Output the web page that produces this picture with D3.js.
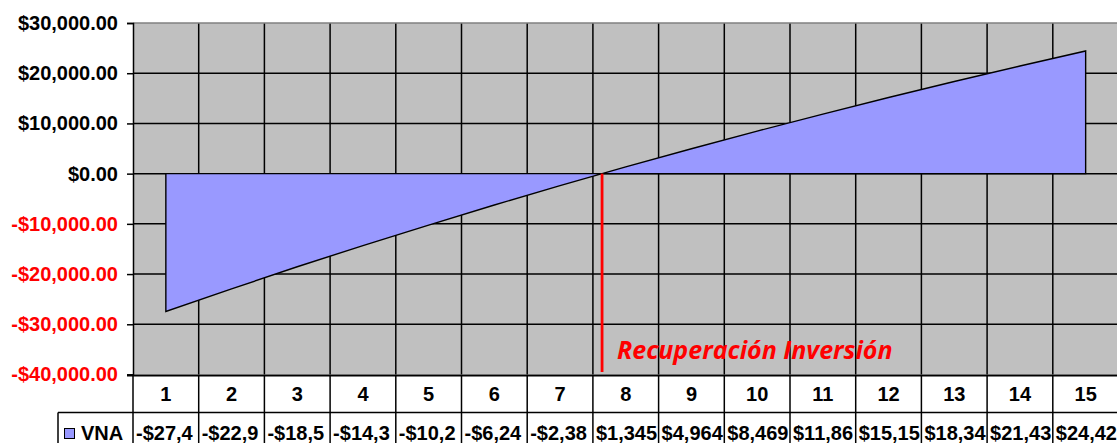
<!DOCTYPE html>
<html>
<head>
<meta charset="utf-8">
<script src="https://cdn.jsdelivr.net/npm/d3@7"></script>
<style>
  html, body { margin: 0; padding: 0; background: #ffffff; }
  svg { display: block; }
  text { font-family: "Liberation Sans", Arial, sans-serif; font-weight: bold; }
</style>
</head>
<body>
<svg id="chart" width="1117" height="443"></svg>
<script>
// Periods (years) of the investment
const periods = [1, 2, 3, 4, 5, 6, 7, 8, 9, 10, 11, 12, 13, 14, 15];
// Accumulated net present value per period
const vna = [-27450, -22960, -18540, -14330, -10260, -6245, -2385, 1345, 4964, 8469, 11865, 15155, 18345, 21435, 24425];
const seriesName = "VNA";
// Value axis ticks
const yTicks = [-40000, -30000, -20000, -10000, 0, 10000, 20000, 30000];
const annotation = "Recuperación Inversión";

const svg = d3.select("#chart");

const plot = { left: 133, right: 1118.5, top: 23, bottom: 374.5 };
const tableRow1 = { top: 375.5, bottom: 412.5 };
const tableRow2 = { top: 412.5, bottom: 470 };
const legendLeft = 58;

const locale = d3.formatLocale({
  decimal: ".", thousands: ",", grouping: [3], currency: ["$", ""], minus: "-"
});
const money = locale.format("$,.2f");

const x = d3.scaleBand().domain(periods).range([plot.left, plot.right]).paddingInner(0).paddingOuter(0);
const cx = d => x(d) + x.bandwidth() / 2;
const y = d3.scaleLinear().domain([-40000, 30000]).range([plot.bottom, plot.top]);

// Plot background
svg.append("rect")
  .attr("x", plot.left).attr("y", plot.top)
  .attr("width", plot.right - plot.left).attr("height", plot.bottom - plot.top)
  .attr("fill", "#C0C0C0");

// Horizontal gridlines
svg.append("g").selectAll("line").data(yTicks.slice(1, -1)).join("line")
  .attr("x1", plot.left).attr("x2", plot.right)
  .attr("y1", d => y(d)).attr("y2", d => y(d))
  .attr("stroke", "#000").attr("stroke-width", 1.5);

// Vertical gridlines at category boundaries
const bounds = periods.map(p => x(p)).concat([x(periods[periods.length - 1]) + x.bandwidth()]);
svg.append("g").selectAll("line").data(bounds.slice(1)).join("line")
  .attr("x1", d => d).attr("x2", d => d)
  .attr("y1", plot.top).attr("y2", plot.bottom)
  .attr("stroke", "#000").attr("stroke-width", 1.5);

// Top border of plot area
svg.append("line")
  .attr("x1", plot.left).attr("x2", plot.right)
  .attr("y1", plot.top).attr("y2", plot.top)
  .attr("stroke", "#808080").attr("stroke-width", 1.5);

// Area of accumulated NPV
const pts = periods.map((p, i) => [cx(p), y(vna[i])]);
const poly = [[cx(periods[0]), y(0)]].concat(pts, [[cx(periods[periods.length - 1]), y(0)]]);
svg.append("path")
  .attr("d", d3.line()(poly) + "Z")
  .attr("fill", "#9999FF")
  .attr("stroke", "#000")
  .attr("stroke-width", 1.4)
  .attr("stroke-linejoin", "miter");

// Payback point: where the accumulated value crosses zero
let crossX = null;
for (let i = 1; i < vna.length; i++) {
  if (vna[i - 1] < 0 && vna[i] >= 0) {
    const t = -vna[i - 1] / (vna[i] - vna[i - 1]);
    crossX = cx(periods[i - 1]) + t * (cx(periods[i]) - cx(periods[i - 1]));
    break;
  }
}
svg.append("line")
  .attr("x1", crossX).attr("x2", crossX)
  .attr("y1", y(0)).attr("y2", plot.bottom - 2.5)
  .attr("stroke", "#FF0000").attr("stroke-width", 2.8);

svg.append("text")
  .attr("x", crossX + 15).attr("y", 359)
  .attr("fill", "#FF0000")
  .style("font-family", "'Open Sans', sans-serif")
  .style("font-style", "italic")
  .style("font-weight", "bold")
  .style("font-size", "25px")
  .text(annotation);

// Value axis
const yAxis = d3.axisLeft(y).tickValues(yTicks).tickSize(6).tickPadding(9).tickFormat(money);
const gy = svg.append("g").attr("transform", `translate(${plot.left},0)`).call(yAxis);
gy.select(".domain").attr("stroke", "#000").attr("stroke-width", 1.5);
gy.selectAll(".tick line").attr("stroke", "#000").attr("stroke-width", 1.5);
gy.selectAll(".tick text")
  .style("font-family", "'Liberation Sans', Arial, sans-serif")
  .style("font-weight", "bold")
  .style("font-size", "20px")
  .attr("fill", d => d < 0 ? "#FF0000" : "#000");

// Data table: category row
const table = svg.append("g");
table.selectAll("text.cat").data(periods).join("text")
  .attr("class", "cat")
  .attr("x", d => cx(d)).attr("y", (tableRow1.top + tableRow1.bottom) / 2 + 7)
  .attr("text-anchor", "middle")
  .style("font-size", "20px")
  .attr("fill", "#000")
  .text(d => d);

// Data table: value row, left-aligned; only whole characters that fit the cell are shown
const cellPad = 3;
table.selectAll("text.val").data(vna).join("text")
  .attr("class", "val")
  .attr("x", (d, i) => x(periods[i]) + cellPad).attr("y", 440)
  .style("font-size", "20px")
  .attr("fill", "#000")
  .text(d => money(d))
  .each(function () {
    const el = d3.select(this);
    let s = el.text();
    const room = x.bandwidth() - cellPad + 0.5;
    while (s.length > 1 && this.getComputedTextLength() > room) {
      s = s.slice(0, -1);
      el.text(s);
    }
  });

// Legend cell
table.append("rect")
  .attr("x", 64.5).attr("y", 428.5).attr("width", 10).attr("height", 10)
  .attr("fill", "#9999FF").attr("stroke", "#000").attr("stroke-width", 1);
table.append("text")
  .attr("x", 81).attr("y", 440)
  .style("font-size", "20px")
  .attr("fill", "#000")
  .text(seriesName);

// Table borders
const tb = table.append("g").attr("stroke", "#000").attr("stroke-width", 1.5);
tb.append("line").attr("x1", plot.left - 6).attr("x2", plot.right)
  .attr("y1", tableRow1.top).attr("y2", tableRow1.top).attr("stroke-width", 2);
tb.append("line").attr("x1", legendLeft).attr("x2", plot.right)
  .attr("y1", tableRow2.top).attr("y2", tableRow2.top);
tb.append("line").attr("x1", legendLeft).attr("x2", legendLeft)
  .attr("y1", tableRow2.top).attr("y2", tableRow2.bottom);
tb.selectAll("line.cb").data(bounds).join("line")
  .attr("class", "cb")
  .attr("x1", d => d).attr("x2", d => d)
  .attr("y1", tableRow1.top).attr("y2", tableRow2.bottom);
</script>
</body>
</html>
